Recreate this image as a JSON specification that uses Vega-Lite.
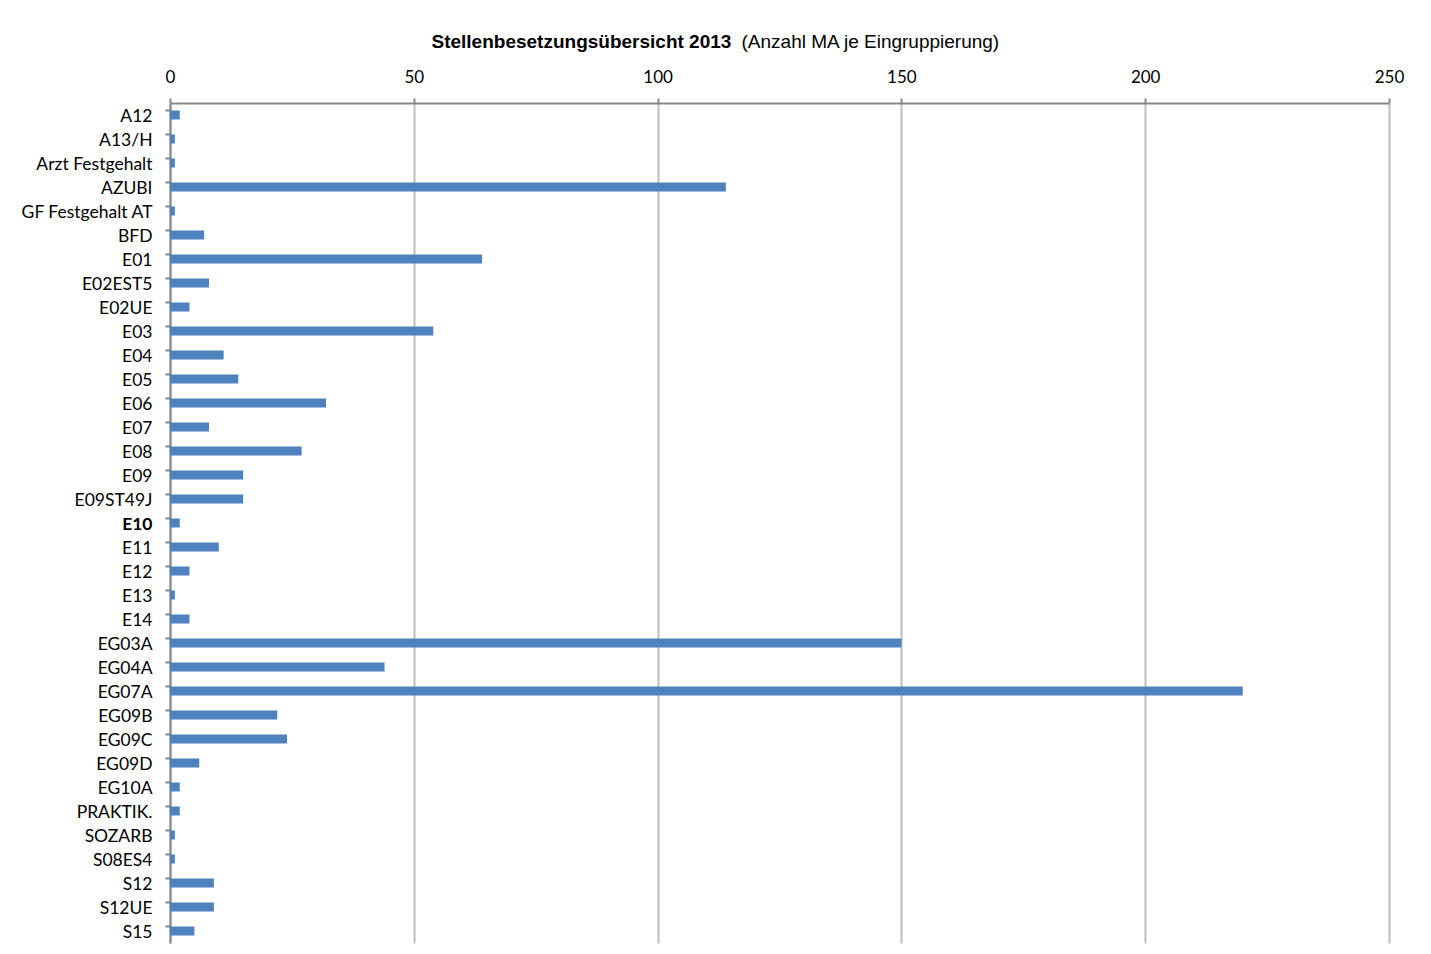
{
  "$schema": "https://vega.github.io/schema/vega-lite/v6.json",
  "autosize": "none",
  "width": 1219,
  "height": 840,
  "padding": {"left": 170, "top": 103, "right": 42, "bottom": 11},
  "background": "white",
  "config": {"view": {"stroke": null}},
  "data": {"values": [
    {"gruppe": "A12", "anzahl": 2},
    {"gruppe": "A13/H", "anzahl": 1},
    {"gruppe": "Arzt Festgehalt", "anzahl": 1},
    {"gruppe": "AZUBI", "anzahl": 114},
    {"gruppe": "GF Festgehalt AT", "anzahl": 1},
    {"gruppe": "BFD", "anzahl": 7},
    {"gruppe": "E01", "anzahl": 64},
    {"gruppe": "E02EST5", "anzahl": 8},
    {"gruppe": "E02UE", "anzahl": 4},
    {"gruppe": "E03", "anzahl": 54},
    {"gruppe": "E04", "anzahl": 11},
    {"gruppe": "E05", "anzahl": 14},
    {"gruppe": "E06", "anzahl": 32},
    {"gruppe": "E07", "anzahl": 8},
    {"gruppe": "E08", "anzahl": 27},
    {"gruppe": "E09", "anzahl": 15},
    {"gruppe": "E09ST49J", "anzahl": 15},
    {"gruppe": "E10", "anzahl": 2},
    {"gruppe": "E11", "anzahl": 10},
    {"gruppe": "E12", "anzahl": 4},
    {"gruppe": "E13", "anzahl": 1},
    {"gruppe": "E14", "anzahl": 4},
    {"gruppe": "EG03A", "anzahl": 150},
    {"gruppe": "EG04A", "anzahl": 44},
    {"gruppe": "EG07A", "anzahl": 220},
    {"gruppe": "EG09B", "anzahl": 22},
    {"gruppe": "EG09C", "anzahl": 24},
    {"gruppe": "EG09D", "anzahl": 6},
    {"gruppe": "EG10A", "anzahl": 2},
    {"gruppe": "PRAKTIK.", "anzahl": 2},
    {"gruppe": "SOZARB", "anzahl": 1},
    {"gruppe": "S08ES4", "anzahl": 1},
    {"gruppe": "S12", "anzahl": 9},
    {"gruppe": "S12UE", "anzahl": 9},
    {"gruppe": "S15", "anzahl": 5}
  ]},
  "mark": {"type": "bar", "color": "#4F81BD"},
  "encoding": {
    "y": {
      "field": "gruppe",
      "type": "nominal",
      "sort": null,
      "scale": {"paddingInner": 0.625, "paddingOuter": 0.3125},
      "axis": {
        "title": "Stellenbesetzungsübersicht 2013",
        "titleFont": "Liberation Sans",
        "titleFontSize": 19,
        "titleFontWeight": "bold",
        "titleColor": "#000000",
        "titleAngle": 0,
        "titleAlign": "left",
        "titleBaseline": "middle",
        "titleX": 261,
        "titleY": -62,
        "labelFont": "Lato",
        "labelFontSize": 17.5,
        "labelColor": "#000000",
        "labelFontWeight": {"condition": {"test": "datum.value === 'E10'", "value": "bold"}, "value": "normal"},
        "labelPadding": 13,
        "labelOffset": 1.5,
        "tickSize": 5,
        "tickColor": "#868686",
        "tickWidth": 2,
        "bandPosition": 0,
        "domainColor": "#868686",
        "domainWidth": 2,
        "grid": false
      }
    },
    "x": {
      "field": "anzahl",
      "type": "quantitative",
      "scale": {"domain": [0, 250], "nice": false},
      "axis": {
        "orient": "top",
        "values": [0, 50, 100, 150, 200, 250],
        "labelFlush": false,
        "title": "(Anzahl MA je Eingruppierung)",
        "titleFont": "Liberation Sans",
        "titleFontSize": 19,
        "titleFontWeight": "normal",
        "titleColor": "#000000",
        "titleAlign": "left",
        "titleBaseline": "middle",
        "titleX": 571,
        "titleY": -62,
        "labelFont": "Lato",
        "labelFontSize": 17,
        "labelColor": "#000000",
        "labelPadding": 12,
        "tickSize": 5,
        "tickColor": "#868686",
        "tickWidth": 2,
        "domainColor": "#868686",
        "domainWidth": 2,
        "grid": true,
        "gridColor": "#BEBEBE",
        "gridWidth": 2
      }
    }
  }
}
